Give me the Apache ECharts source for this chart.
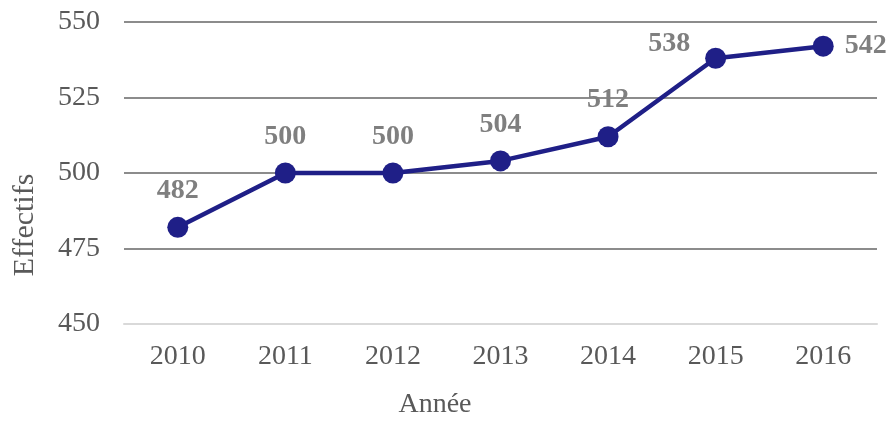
<!DOCTYPE html>
<html>
<head>
<meta charset="utf-8">
<script src="https://cdn.jsdelivr.net/npm/echarts@6/dist/echarts.min.js"></script>
<style>
  html, body { margin: 0; padding: 0; background: #fff; }
  #chart { width: 888px; height: 422px; }
</style>
</head>
<body>
<div id="chart"></div>
<script>
var years = ['2010', '2011', '2012', '2013', '2014', '2015', '2016'];
var effectifs = [482, 500, 500, 504, 512, 538, 542];
// where each value label sits
var labelPos = ['top', 'top', 'top', 'top', 'top', 'left', 'right'];

var chart = echarts.init(document.getElementById('chart'));
var font = '"Liberation Serif", "Times New Roman", serif';

var option = {
  animation: false,
  grid: { left: 124, right: 11, top: 22, bottom: 98 },
  xAxis: {
    type: 'category',
    data: years,
    axisLine: { show: true, lineStyle: { color: '#d9d9d9', width: 2 } },
    axisTick: { show: false },
    axisLabel: { fontFamily: font, fontSize: 28, color: '#595959', margin: 19 }
  },
  yAxis: {
    type: 'value',
    min: 450,
    max: 550,
    interval: 25,
    axisLine: { show: false },
    axisTick: { show: false },
    axisLabel: { fontFamily: font, fontSize: 28, color: '#595959', margin: 24 },
    splitLine: { lineStyle: { color: '#8c8c8c', width: 2 } }
  },
  graphic: [
    {
      type: 'text',
      x: 25, y: 225,
      rotation: Math.PI / 2,
      style: {
        text: 'Effectifs',
        font: '30px ' + font,
        fill: '#595959',
        align: 'center',
        verticalAlign: 'middle'
      }
    },
    {
      type: 'text',
      x: 435, y: 405,
      style: {
        text: 'Année',
        font: '28px ' + font,
        fill: '#595959',
        align: 'center',
        verticalAlign: 'middle'
      }
    }
  ],
  series: [{
    type: 'line',
    data: effectifs.map(function (v, i) {
      var pos = labelPos[i];
      var lab = { position: pos, distance: 12 };
      if (pos === 'left') { lab.distance = 15; lab.offset = [0, -14]; }
      if (pos === 'right') { lab.distance = 11; }
      return { value: v, label: lab };
    }),
    symbol: 'circle',
    symbolSize: 21,
    lineStyle: { color: '#1f1f87', width: 4.5 },
    itemStyle: { color: '#1f1f87' },
    label: {
      show: true,
      fontFamily: font,
      fontSize: 28,
      fontWeight: 'bold',
      color: '#7f7f7f'
    }
  }]
};

chart.setOption(option);
</script>
</body>
</html>
